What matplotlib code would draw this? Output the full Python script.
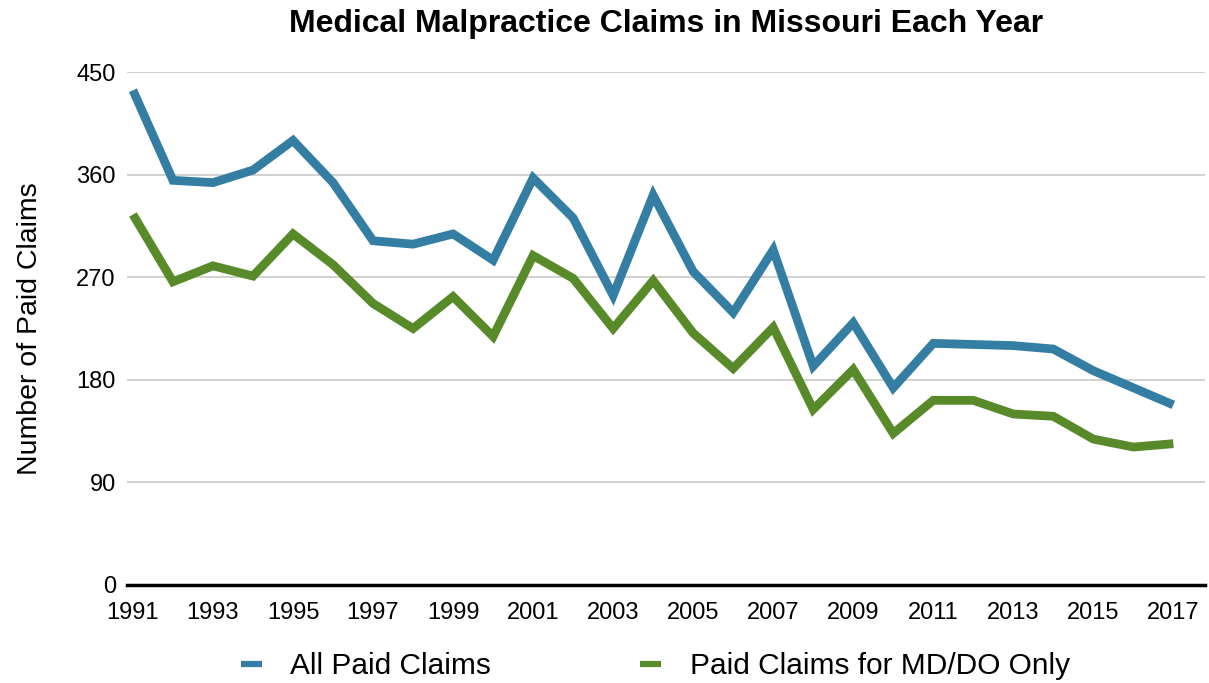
import matplotlib.pyplot as plt

plt.rcParams['font.family'] = ['Liberation Sans', 'DejaVu Sans']

years = list(range(1991, 2018))
all_paid = [434, 355, 353, 364, 390, 353, 302, 299, 308, 285, 357, 322, 254, 342,
            275, 239, 294, 192, 230, 173, 212, 211, 210, 207, 188, 173, 158]
md_do_paid = [325, 266, 280, 271, 308, 281, 247, 225, 253, 218, 289, 269, 225, 267,
              221, 190, 226, 154, 189, 133, 162, 162, 150, 148, 128, 121, 124]
y_ticks = [0, 90, 180, 270, 360, 450]
x_ticks = list(range(1991, 2018, 2))

blue = '#357ea3'
green = '#588a2a'

fig = plt.figure(figsize=(12.09, 6.83), dpi=100)
ax = fig.add_axes([0.105, 0.1435, 0.892, 0.751])

ax.plot(years, all_paid, color=blue, lw=6.3, solid_joinstyle='miter',
        solid_capstyle='butt', label='All Paid Claims')
ax.plot(years, md_do_paid, color=green, lw=6.3, solid_joinstyle='miter',
        solid_capstyle='butt', label='Paid Claims for MD/DO Only')

ax.set_ylim(0, 450)
ax.set_xlim(1990.85, 2017.8)
ax.set_yticks(y_ticks)
ax.set_xticks(x_ticks)
ax.tick_params(axis='both', length=0, labelsize=17)
ax.tick_params(axis='x', pad=12)
ax.tick_params(axis='y', pad=8)
ax.grid(axis='y', color='#c8c8c8', lw=1.2)
ax.set_axisbelow(True)
for s in ['top', 'right', 'left']:
    ax.spines[s].set_visible(False)
ax.spines['bottom'].set_linewidth(2.5)
ax.spines['bottom'].set_color('black')

ax.set_ylabel('Number of Paid Claims', fontsize=20.5, labelpad=24)
ax.set_title('Medical Malpractice Claims in Missouri Each Year',
             fontsize=23, fontweight='bold', pad=29)

leg = fig.legend(loc='lower center', bbox_to_anchor=(0.542, -0.035), ncol=2,
                 frameon=False, fontsize=21.5, handlelength=0.7,
                 columnspacing=5.0, handletextpad=0.95)
for h in leg.get_lines():
    h.set_linewidth(4.5)

fig.savefig('out.png', dpi=100)
